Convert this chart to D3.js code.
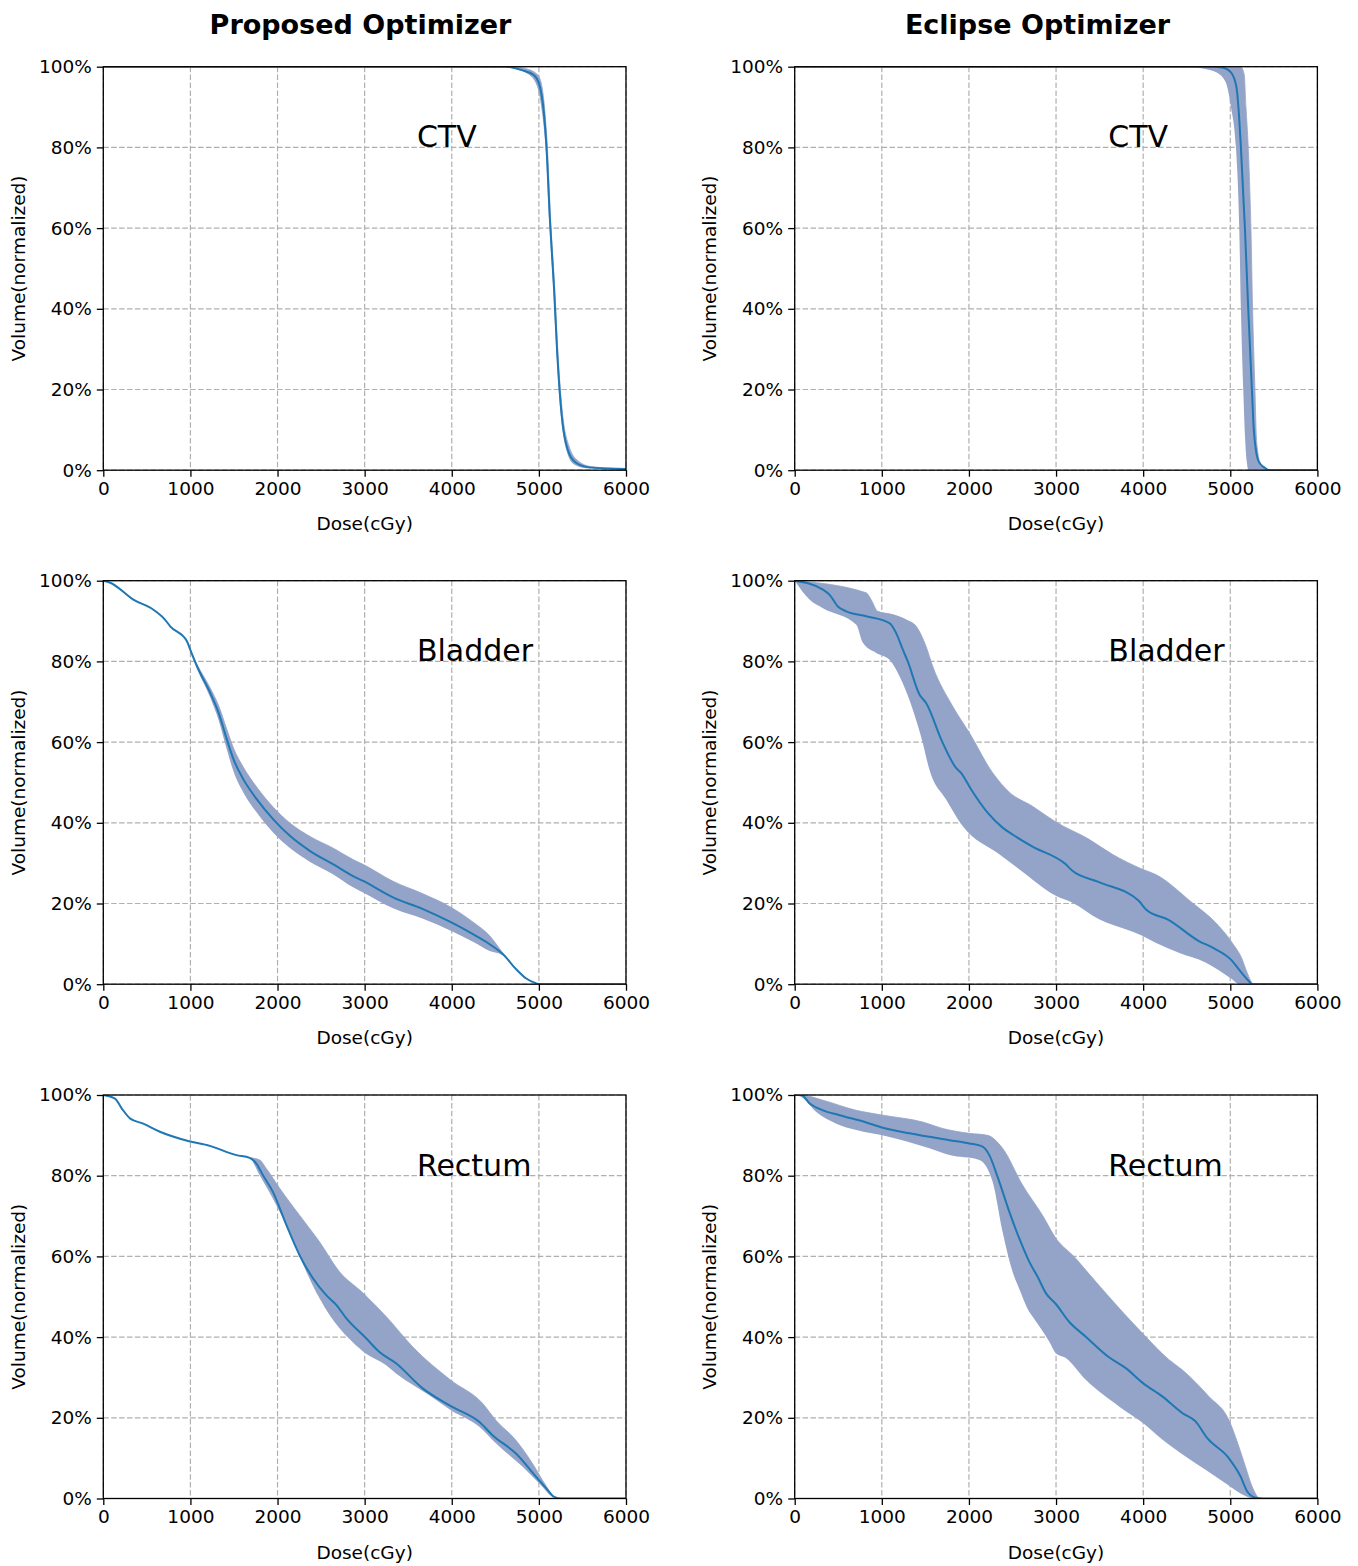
<!DOCTYPE html>
<html>
<head>
<meta charset="utf-8">
<script src="https://d3js.org/d3.v7.min.js"></script>
<style>
  html, body { margin: 0; padding: 0; background: #fff; }
  svg { display: block; }
  text { font-family: "DejaVu Sans", sans-serif; }
</style>
</head>
<body>
<script>
// ---------------- DATA ----------------
const columnTitles = ["Proposed Optimizer", "Eclipse Optimizer"];
const organs = ["CTV", "Bladder", "Rectum"];
const xTicks = [0, 1000, 2000, 3000, 4000, 5000, 6000];
const yTicks = [0, 20, 40, 60, 80, 100];
const xLabel = "Dose(cGy)";
const yLabel = "Volume(normalized)";
const labelDose = 3600, labelVol = 80;

// Proposed - CTV  [dose cGy, volume %]
const propCtvMean = [[0,100],[4620,100],[4811,99.1],[4945,97.9],[5002,95.8],[5048,90.4],[5086,80.5],[5128,61.5],[5174,45],[5212,28.4],[5262,13.5],[5327,5.3],[5422,1.9],[5575,0.7],[5800,0.4],[6000,0.3]];
const propCtvUpper = [[0,100],[4700,100],[4850,99.5],[4970,98.3],[5020,96.5],[5060,91],[5095,81],[5135,62],[5182,45],[5220,28.5],[5272,14],[5345,6],[5450,2.3],[5600,0.9],[6000,0.3]];
const propCtvLower = [[0,100],[4500,100],[4700,99.6],[4850,98.5],[4950,96.5],[5000,93.5],[5040,88],[5080,79],[5120,61],[5165,45],[5205,28],[5255,13],[5315,5],[5400,1.5],[5550,0.5],[6000,0.2]];

// Eclipse - CTV
const eclCtvMean = [[0,100],[4800,100],[4910,99.8],[5008,98.6],[5070,95],[5100,88],[5122,80],[5168,60],[5206,40],[5248,20],[5270,10],[5294,5],[5330,2],[5390,0.7],[5450,0],[6000,0]];
const eclCtvUpper = [[0,100],[5120,100],[5160,98],[5180,90],[5206,80],[5237,60],[5256,40],[5283,20],[5300,8],[5313,5],[5340,2],[5400,0.6],[5447,0],[6000,0]];
const eclCtvLower = [[0,100],[4500,100],[4700,99.5],[4850,98.5],[4950,96],[5008,90],[5065,80],[5103,60],[5122,40],[5149,20],[5170,8],[5190,2],[5210,0],[6000,0]];

// Proposed - Bladder
const propBladMean = [[0,100],[80,99.5],[345,95.3],[575,92.8],[710,90.3],[768,88.7],[960,85],[998,82.9],[1075,78.8],[1228,72.2],[1323,67.3],[1419,60.6],[1495,55.7],[1610,50.7],[1763,45.8],[1954,40.8],[2145,36.7],[2374,33],[2641,29.7],[2867,26.8],[2982,25.6],[3326,21.5],[3670,18.6],[3995,15.3],[4243,12.4],[4435,9.9],[4588,7.4],[4740,3.7],[4855,1.4],[4970,0.2],[5000,0],[6000,0]];
const propBladUpper = [[0,100],[80,99.5],[345,95.3],[575,92.8],[710,90.3],[768,88.7],[960,85],[998,82.9],[1075,79.3],[1228,73.4],[1323,69.1],[1419,63.1],[1495,58.5],[1610,53.7],[1763,48.8],[1954,43.8],[2145,39.9],[2374,36.6],[2641,33.7],[2867,30.9],[2982,29.7],[3326,25.5],[3670,22.4],[3995,19.0],[4243,15.4],[4435,12.0],[4588,7.7],[4740,3.7],[4855,1.4],[4970,0.2],[5000,0],[6000,0]];
const propBladLower = [[0,100],[80,99.5],[345,95.3],[575,92.8],[710,90.3],[768,88.7],[960,85],[998,82.9],[1075,78.3],[1228,71.0],[1323,65.5],[1419,58.1],[1495,52.7],[1610,47.4],[1763,42.5],[1954,37.5],[2145,33.7],[2374,30.3],[2641,27.2],[2867,24.0],[2982,22.7],[3326,18.8],[3670,16.2],[3995,13.2],[4243,10.5],[4435,8.2],[4588,7.1],[4740,3.7],[4855,1.4],[4970,0.2],[5000,0],[6000,0]];

// Eclipse - Bladder
const eclBladMean = [[0,100],[324,97.8],[401,96.5],[496,93.6],[592,92.4],[821,91.2],[1088,89.5],[1165,87],[1241,82.9],[1298,80],[1432,71.8],[1508,69.7],[1699,59.8],[1852,53.6],[1909,52.4],[2024,48.3],[2214,42.5],[2386,38.8],[2501,37.1],[2730,34.1],[3112,29.7],[3188,28.1],[3494,25.3],[3952,20.6],[4029,18.6],[4296,15.9],[4639,10.7],[4792,9.1],[5021,5.8],[5098,3.7],[5212,0.8],[5250,0],[6000,0]];
const eclBladUpper = [[0,100],[821,97],[878,95.3],[954,92.4],[1126,91.6],[1279,90.3],[1394,88.7],[1508,83.7],[1584,78.8],[1813,68.9],[2005,62.3],[2272,52.4],[2463,47.6],[2730,44.1],[2998,40.2],[3379,35.9],[3646,32.2],[3990,28.5],[4143,27.2],[4563,20.2],[4830,15.3],[5021,10.3],[5136,6.2],[5193,2.9],[5269,0],[6000,0]];
const eclBladLower = [[0,100],[172,95.3],[324,93.2],[707,89.1],[783,84.6],[936,82.1],[1088,80.4],[1203,76.3],[1355,68.1],[1470,59.8],[1546,53.2],[1738,45.8],[1928,39.2],[2348,32.2],[2577,28.5],[2998,21.9],[3188,20.2],[3494,16.1],[3800,13.6],[3990,12],[4143,10.3],[4410,7.8],[4716,5.4],[5021,1.2],[5098,0],[6000,0]];

// Proposed - Rectum
const propRectMean = [[0,100],[134,99.1],[211,96.7],[306,94.2],[458,92.9],[650,90.9],[974,88.6],[1222,87.4],[1528,85.1],[1680,84.4],[1757,83],[1833,80.1],[1947,76],[2101,67.8],[2253,60.3],[2406,54.6],[2559,50.4],[2674,48],[2788,44.7],[3017,39.7],[3170,36.3],[3360,33.5],[3666,27.3],[3990,22.9],[4315,19],[4467,15.7],[4734,11.2],[4983,5],[5117,1.7],[5174,0.4],[5260,0],[6000,0]];
const propRectUpper = [[0,100],[134,99.1],[211,96.7],[306,94.2],[458,92.9],[650,90.9],[974,88.6],[1222,87.4],[1528,85.1],[1680,84.5],[1795,83.9],[1871,81.8],[2024,76.9],[2253,70.2],[2482,63.6],[2711,56.2],[2978,51],[3260,44.8],[3551,37.6],[3990,29.3],[4353,23.6],[4506,19.4],[4734,14.5],[4926,8.7],[5078,3.3],[5174,0.5],[5260,0],[6000,0]];
const propRectLower = [[0,100],[134,99.1],[211,96.7],[306,94.2],[458,92.9],[650,90.9],[974,88.6],[1222,87.4],[1528,85.1],[1680,84.3],[1795,80.1],[1986,72.7],[2139,66.1],[2330,56.2],[2482,49.6],[2597,45.5],[2826,39.5],[2978,36.5],[3246,33],[3360,31],[3742,25.6],[3990,21.9],[4315,17.8],[4506,13.7],[4811,7.9],[5040,2.9],[5150,0.5],[5260,0],[6000,0]];

// Eclipse - Rectum
const eclRectMean = [[0,100],[76,100],[172,97.9],[324,96.2],[515,95],[821,93.2],[1012,91.9],[1317,90.5],[1776,88.8],[2005,88],[2157,87.2],[2234,85.1],[2329,79.7],[2463,71.1],[2577,64.5],[2692,58.7],[2787,55],[2883,50.9],[2998,48.2],[3150,43.8],[3341,40.1],[3608,35],[3800,32.3],[3998,28.6],[4219,25.3],[4448,21.2],[4601,19.1],[4734,15],[4983,10],[5117,5.5],[5193,1.8],[5289,0.2],[5380,0],[6000,0]];
const eclRectUpper = [[0,100],[76,100],[324,98.7],[707,96.2],[1012,95],[1470,93.3],[1699,91.7],[2005,90.5],[2214,90],[2386,86.8],[2615,77.7],[2844,70.2],[2998,64.5],[3227,59.5],[3341,56.6],[3570,50.9],[3990,41],[4296,34.4],[4448,31.9],[4754,25.3],[4983,19.5],[5098,12.9],[5174,7.9],[5250,3],[5346,0],[6000,0]];
const eclRectLower = [[0,100],[76,99.5],[248,95.8],[477,92.9],[707,91.3],[1088,89.6],[1546,86.8],[1776,85.1],[2119,83.9],[2272,78.5],[2386,66.1],[2501,56.2],[2577,52],[2692,46.3],[2730,45.1],[2921,38.9],[2998,36],[3112,34.8],[3341,29.4],[3723,22.8],[3998,18.7],[4219,14.6],[4487,10.4],[4716,7.1],[4945,3.8],[5174,0.6],[5250,0],[6000,0]];

const panels = [
  {row:0, col:0, label:organs[0], mean:propCtvMean, upper:propCtvUpper, lower:propCtvLower},
  {row:0, col:1, label:organs[0], mean:eclCtvMean, upper:eclCtvUpper, lower:eclCtvLower},
  {row:1, col:0, label:organs[1], mean:propBladMean, upper:propBladUpper, lower:propBladLower},
  {row:1, col:1, label:organs[1], mean:eclBladMean, upper:eclBladUpper, lower:eclBladLower},
  {row:2, col:0, label:organs[2], mean:propRectMean, upper:propRectUpper, lower:propRectLower},
  {row:2, col:1, label:organs[2], mean:eclRectMean, upper:eclRectUpper, lower:eclRectLower}
];

// ---------------- LAYOUT ----------------
const W = 1358, H = 1566;
const colLeft = [103.3, 794.7];
const rowTop = [66.7, 580.7, 1095];
const pw = 522.7, ph = 403.5;
const titleX = [360.5, 1037.5];
const tickFont = 18.5;
const bandColor = "#93a4c8";

const svg = d3.select("body").append("svg").attr("width", W).attr("height", H);
svg.append("rect").attr("width", W).attr("height", H).attr("fill", "#fff");

columnTitles.forEach((t, i) => {
  svg.append("text").attr("x", titleX[i]).attr("y", 34)
    .attr("text-anchor", "middle").attr("font-weight", "bold")
    .attr("font-size", 27).attr("fill", "#000").text(t);
});

panels.forEach((p, idx) => {
  const g = svg.append("g").attr("transform", `translate(${colLeft[p.col]},${rowTop[p.row]})`);
  const x = d3.scaleLinear().domain([0, 6000]).range([0, pw]);
  const y = d3.scaleLinear().domain([0, 100]).range([ph, 0]);
  const defs = g.append("defs");

  const clipId = "clip" + idx;
  defs.append("clipPath").attr("id", clipId).append("rect").attr("width", pw).attr("height", ph);

  // grid
  const grid = g.append("g");
  xTicks.forEach(t => grid.append("line").attr("x1", x(t)).attr("x2", x(t)).attr("y1", 0).attr("y2", ph));
  yTicks.forEach(t => grid.append("line").attr("x1", 0).attr("x2", pw).attr("y1", y(t)).attr("y2", y(t)));
  grid.selectAll("line").attr("stroke", "#b0b0b0").attr("stroke-width", 1.2).attr("stroke-dasharray", "5.5,2.4");

  const curve = d3.curveMonotoneX;
  const line = d3.line().x(d => x(d[0])).y(d => y(d[1])).curve(curve);
  const areaUnder = d3.area().x(d => x(d[0])).y0(y(0) + 3).y1(d => y(d[1])).curve(curve);

  // band = area under upper edge minus area under lower edge (mask, local coords)
  const maskId = "bandmask" + idx;
  const mask = defs.append("mask").attr("id", maskId).attr("maskUnits", "userSpaceOnUse")
    .attr("maskContentUnits", "userSpaceOnUse")
    .attr("x", -10).attr("y", -10).attr("width", pw + 20).attr("height", ph + 20);
  mask.append("path").attr("d", areaUnder(p.upper)).attr("fill", "#fff")
    .attr("stroke", "#fff").attr("stroke-width", 0.8);
  mask.append("path").attr("d", areaUnder(p.lower)).attr("fill", "#000");

  const plot = g.append("g").attr("clip-path", `url(#${clipId})`);
  plot.append("rect").attr("x", -5).attr("y", -5).attr("width", pw + 10).attr("height", ph + 10)
    .attr("fill", bandColor).attr("mask", `url(#${maskId})`);

  // mean curve
  plot.append("path").attr("d", line(p.mean))
    .attr("fill", "none").attr("stroke", "#1f77b4").attr("stroke-width", 2)
    .attr("stroke-linejoin", "round");

  // axes
  const xa = g.append("g").attr("transform", `translate(0,${ph})`)
    .call(d3.axisBottom(x).tickValues(xTicks).tickFormat(d3.format("d")).tickSize(6.5).tickPadding(5));
  const ya = g.append("g")
    .call(d3.axisLeft(y).tickValues(yTicks).tickFormat(d => d + "%").tickSize(6.5).tickPadding(5));
  [xa, ya].forEach(a => {
    a.select(".domain").remove();
    a.selectAll(".tick line").attr("stroke", "#000").attr("stroke-width", 1.3);
    a.selectAll(".tick text").attr("font-size", tickFont).attr("fill", "#000")
      .attr("font-family", "DejaVu Sans");
  });

  // spines
  g.append("rect").attr("width", pw).attr("height", ph)
    .attr("fill", "none").attr("stroke", "#000").attr("stroke-width", 1.3);

  // organ label
  g.append("text").attr("x", x(labelDose)).attr("y", y(labelVol))
    .attr("font-size", 30).attr("fill", "#000").text(p.label);

  // axis labels
  g.append("text").attr("x", pw / 2).attr("y", ph + 60)
    .attr("text-anchor", "middle").attr("font-size", tickFont).attr("fill", "#000").text(xLabel);
  g.append("text").attr("transform", `translate(${-78.5},${ph / 2}) rotate(-90)`)
    .attr("text-anchor", "middle").attr("font-size", tickFont).attr("fill", "#000").text(yLabel);
});
</script>
</body>
</html>
